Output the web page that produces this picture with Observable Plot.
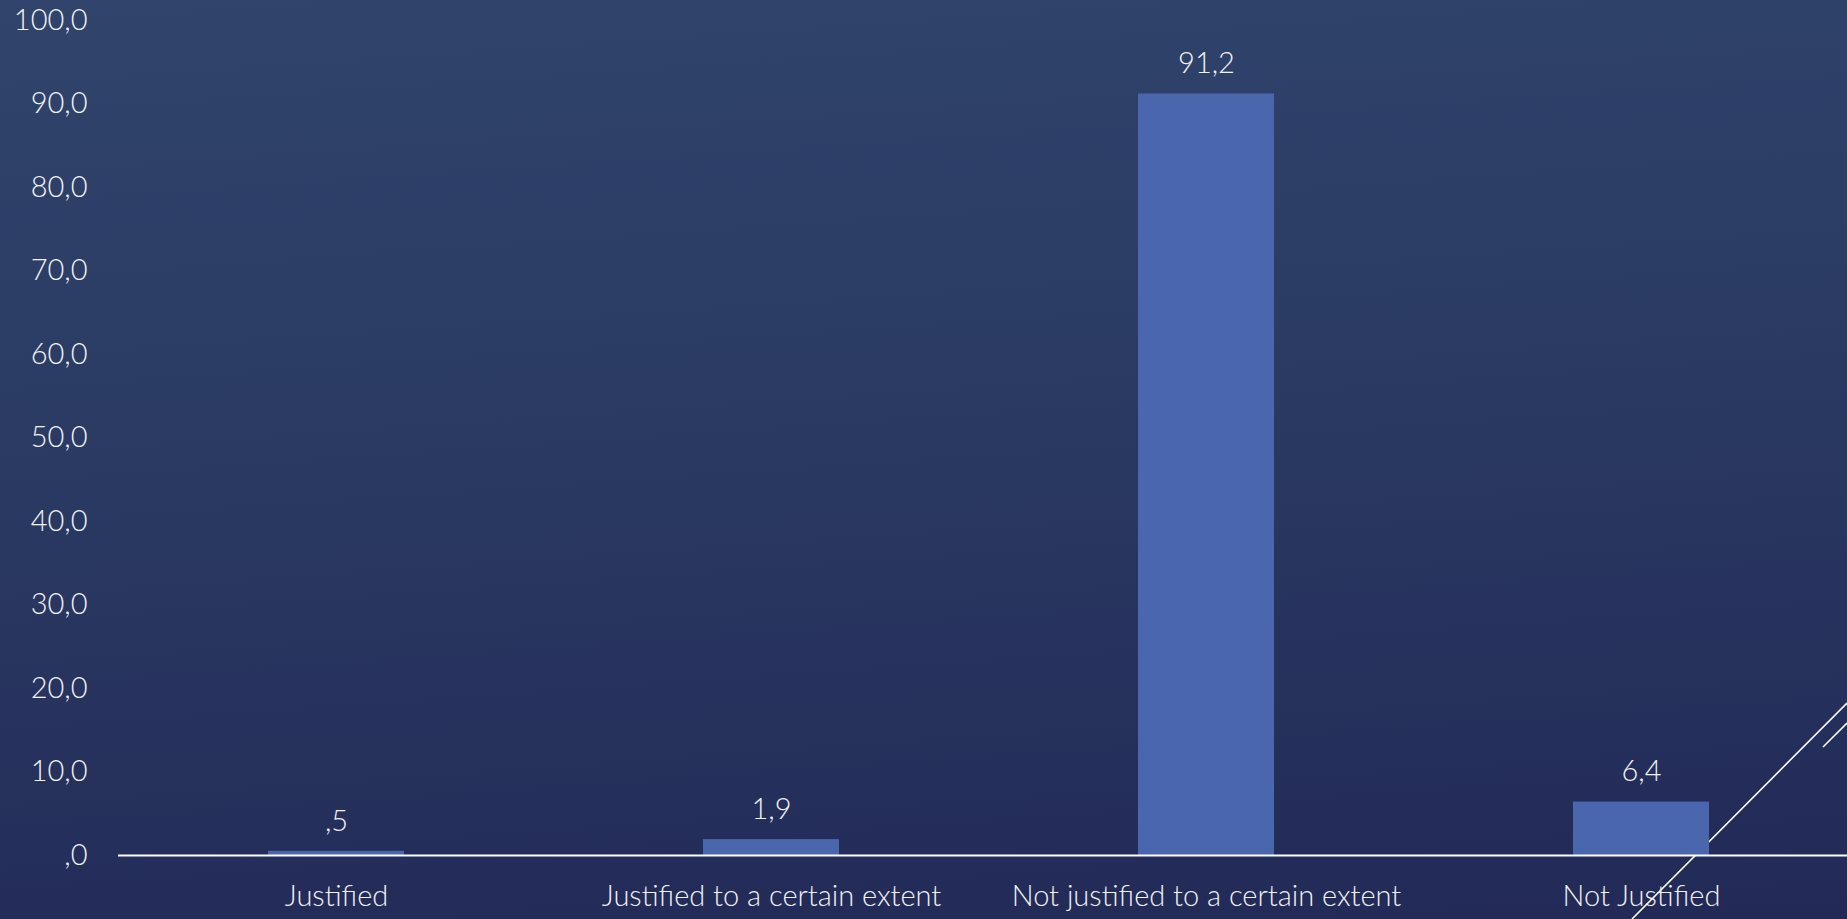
<!DOCTYPE html>
<html>
<head>
<meta charset="utf-8">
<script src="https://cdn.jsdelivr.net/npm/d3@7"></script>
<script src="https://cdn.jsdelivr.net/npm/@observablehq/plot@0.6"></script>
<style>
  html, body { margin: 0; padding: 0; }
  body {
    width: 1847px; height: 919px; overflow: hidden; position: relative;
    background: linear-gradient(176deg, #30446c 0%, #2a3a63 45%, #222956 100%);
  }
  #deco { position: absolute; left: 0; top: 0; z-index: 0; }
  #chart { position: absolute; left: 0; top: 0; z-index: 1; }
  #chart svg { background: transparent; }
</style>
</head>
<body>
<svg id="deco" width="1847" height="919">
  <line x1="1847" y1="703" x2="1632" y2="919" stroke="#ffffff" stroke-width="1.6"/>
  <line x1="1847" y1="723" x2="1823" y2="747" stroke="#ffffff" stroke-width="1.6"/>
</svg>
<div id="chart"></div>
<script>
const categories = ["Justified", "Justified to a certain extent", "Not justified to a certain extent", "Not Justified"];
const values = [0.5, 1.9, 91.2, 6.4];
const valueLabels = [",5", "1,9", "91,2", "6,4"];
const yTicks = [0, 10, 20, 30, 40, 50, 60, 70, 80, 90, 100];
const yTickLabels = [",0", "10,0", "20,0", "30,0", "40,0", "50,0", "60,0", "70,0", "80,0", "90,0", "100,0"];

const data = categories.map((c, i) => ({category: c, value: values[i], label: valueLabels[i]}));
const textColor = "#f2f2f2";
const font = "Lato, 'Open Sans', sans-serif";
const fs = 29;

const chart = Plot.plot({
  width: 1847,
  height: 919,
  marginLeft: 118,
  marginRight: 0,
  marginTop: 20,
  marginBottom: 64,
  style: {background: "transparent", color: textColor, fontFamily: font, fontSize: fs + "px", fontWeight: 300},
  x: {domain: categories, range: [117, 1859], paddingInner: 0.688, paddingOuter: 0.344, align: 0.5, label: null},
  y: {domain: [0, 100], label: null},
  marks: [
    Plot.barY(data, {x: "category", y: "value", fill: "#4a67ae"}),
    Plot.ruleY([0], {stroke: "#ffffff", strokeWidth: 2}),
    Plot.text(data, {x: "category", y: "value", text: "label", dy: -30, fill: textColor, fontSize: fs, lineAnchor: "middle"}),
    Plot.axisY({ticks: yTicks, tickFormat: (d) => yTickLabels[yTicks.indexOf(d)], tickSize: 0, tickPadding: 31, fontSize: fs, fill: textColor, label: null}),
    Plot.axisX({tickSize: 0, tickPadding: 30, fontSize: fs, fill: textColor, label: null})
  ]
});
document.getElementById("chart").appendChild(chart);
</script>
</body>
</html>
